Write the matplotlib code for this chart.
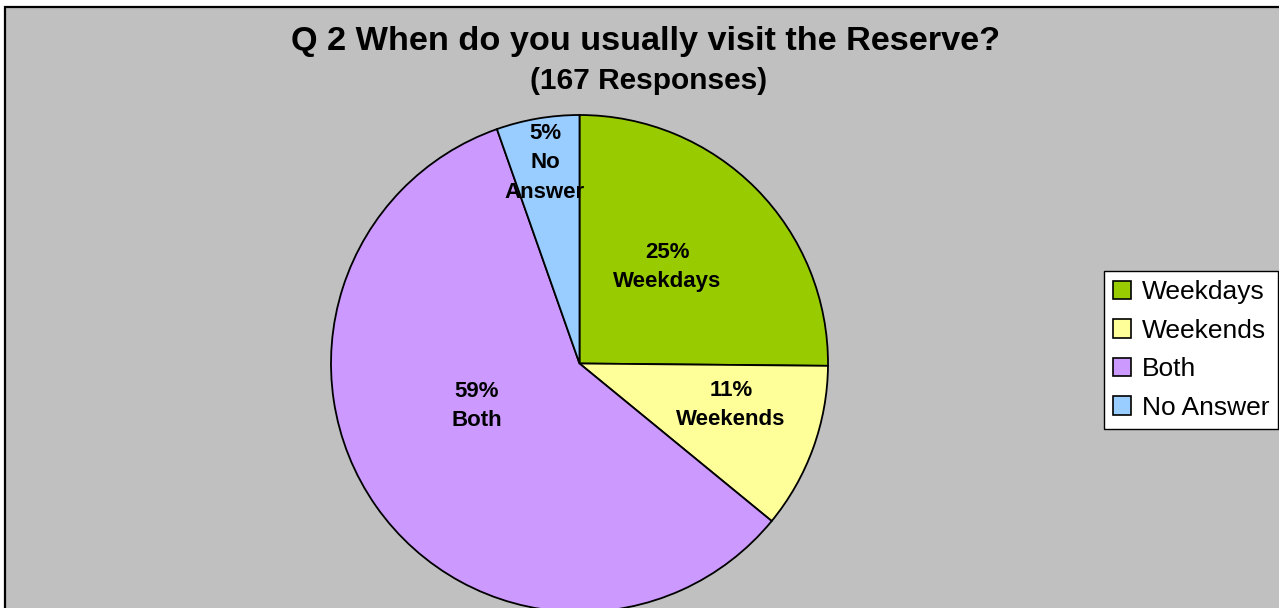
import matplotlib.pyplot as plt
from matplotlib.patches import Rectangle

plt.rcParams['font.family'] = ['Liberation Sans', 'DejaVu Sans']

# survey answers (167 responses)
categories = ['Weekdays', 'Weekends', 'Both', 'No Answer']
counts = [42, 18, 98, 9]
colors = ['#99CC00', '#FFFF99', '#CC99FF', '#99CCFF']

W, H = 1279, 608
fig = plt.figure(figsize=(W / 100, H / 100), dpi=100)
fig.patch.set_facecolor('white')

# grey chart area with black border
fig.add_artist(Rectangle((5 / W, -0.05), 1.1, 1 - 7 / H + 0.05,
                         transform=fig.transFigure, facecolor='#C0C0C0',
                         edgecolor='black', linewidth=1.6, zorder=0))

fig.text(646 / W, 1 - 50 / H, 'Q 2 When do you usually visit the Reserve?',
         ha='center', va='baseline', fontsize=24.7, fontweight='bold')
fig.text(649 / W, 1 - 89 / H, '(167 Responses)',
         ha='center', va='baseline', fontsize=21.5, fontweight='bold')

ax = fig.add_axes([331 / W, -4 / H, 497 / W, 497 / H])
wedges, _ = ax.pie(counts, colors=colors, startangle=90, counterclock=False,
                   wedgeprops=dict(edgecolor='black', linewidth=1.3))
ax.set_xlim(-1, 1)
ax.set_ylim(-1, 1)
ax.set_aspect('auto')
ax.axis('off')

total = sum(counts)
label_xy = [(0.354, 0.388), (0.61, -0.167), (-0.414, -0.171), (-0.139, 0.807)]
label_names = ['Weekdays', 'Weekends', 'Both', 'No\nAnswer']
for n, name, (x, y) in zip(counts, label_names, label_xy):
    ax.text(x, y, f'{round(100 * n / total)}%\n{name}', ha='center', va='center',
            fontsize=16, fontweight='bold', linespacing=1.55)

leg = fig.legend(wedges, categories, loc='upper left',
                 bbox_to_anchor=(1104 / W, 1 - 271 / H), frameon=True,
                 fancybox=False, edgecolor='black', facecolor='white',
                 framealpha=1, fontsize=19, handlelength=0.68,
                 handleheight=0.68, handletextpad=0.4, labelspacing=0.55,
                 borderpad=0.35, borderaxespad=0)
leg.get_frame().set_linewidth(1.0)
for h in leg.legend_handles:
    h.set_edgecolor('black')
    h.set_linewidth(1.2)

fig.savefig('out.png', dpi=100, facecolor=fig.get_facecolor())
